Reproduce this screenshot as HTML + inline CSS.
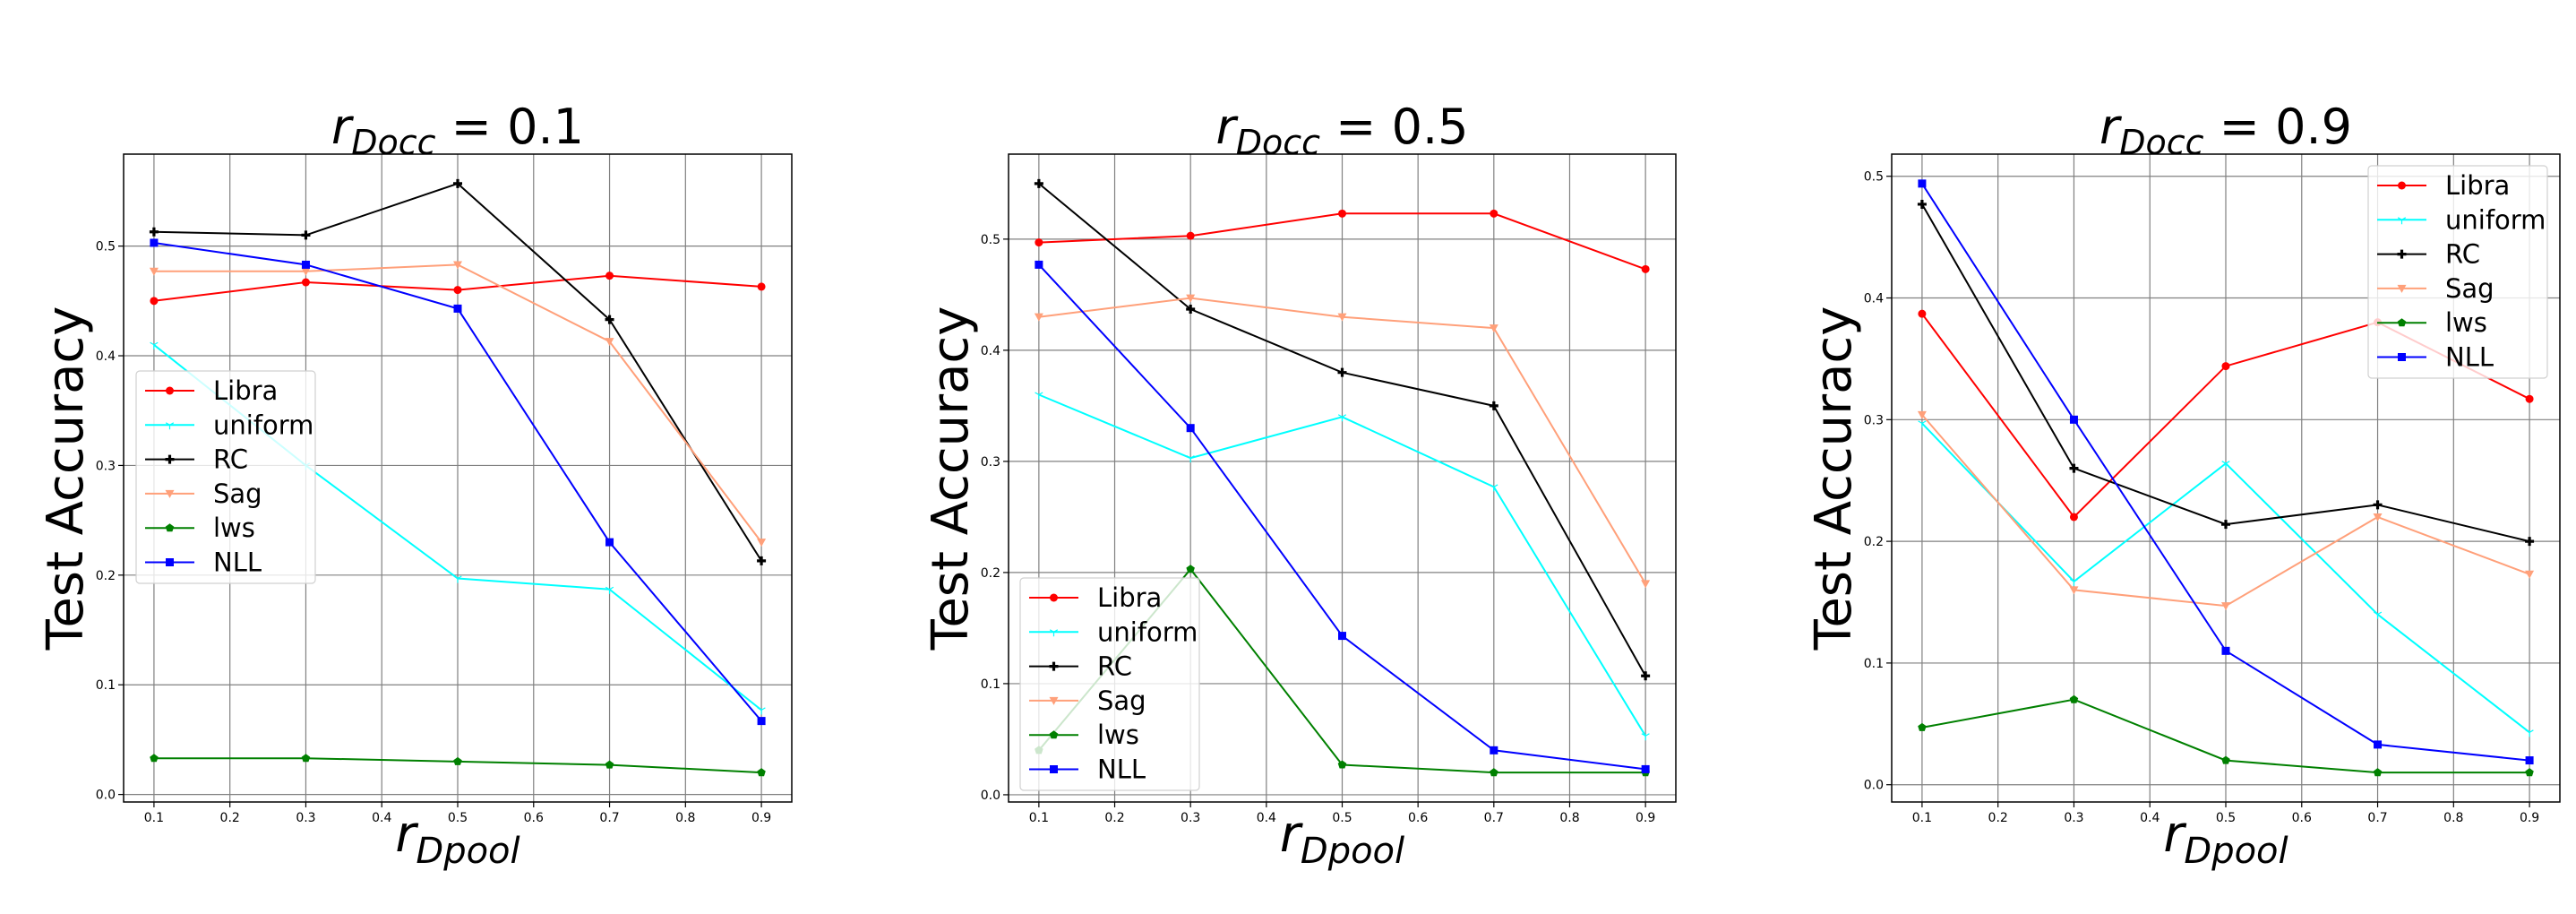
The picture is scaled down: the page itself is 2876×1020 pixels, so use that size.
<!DOCTYPE html>
<html><head><meta charset="utf-8"><style>
body{margin:0;background:#fff}
svg{display:block;font-family:"DejaVu Sans","Liberation Sans",sans-serif}
</style></head><body>
<svg id="fig" width="2876" height="1020" viewBox="0 0 2876 1020" xmlns="http://www.w3.org/2000/svg"></svg>
<script>
const xValues=[0.1,0.3,0.5,0.7,0.9];
const xTicks=[0.1,0.2,0.3,0.4,0.5,0.6,0.7,0.8,0.9];
const yTicks=[0.0,0.1,0.2,0.3,0.4,0.5];
const seriesNames=["Libra","uniform","RC","Sag","lws","NLL"];
const panelTitles=["0.1","0.5","0.9"];
const p1Libra=[0.45,0.467,0.46,0.473,0.463];
const p1Uniform=[0.41,0.30,0.197,0.187,0.077];
const p1RC=[0.513,0.51,0.557,0.433,0.213];
const p1Sag=[0.477,0.477,0.483,0.413,0.23];
const p1Lws=[0.033,0.033,0.03,0.027,0.02];
const p1NLL=[0.503,0.483,0.443,0.23,0.067];
const p2Libra=[0.497,0.503,0.523,0.523,0.473];
const p2Uniform=[0.36,0.303,0.34,0.277,0.053];
const p2RC=[0.55,0.437,0.38,0.35,0.107];
const p2Sag=[0.43,0.447,0.43,0.42,0.19];
const p2Lws=[0.04,0.203,0.027,0.02,0.02];
const p2NLL=[0.477,0.33,0.143,0.04,0.023];
const p3Libra=[0.387,0.22,0.344,0.38,0.317];
const p3Uniform=[0.297,0.167,0.264,0.14,0.043];
const p3RC=[0.477,0.26,0.214,0.23,0.2];
const p3Sag=[0.304,0.16,0.147,0.22,0.173];
const p3Lws=[0.047,0.07,0.02,0.01,0.01];
const p3NLL=[0.494,0.30,0.11,0.033,0.02];

const panelData=[[p1Libra,p1Uniform,p1RC,p1Sag,p1Lws,p1NLL],[p2Libra,p2Uniform,p2RC,p2Sag,p2Lws,p2NLL],[p3Libra,p3Uniform,p3RC,p3Sag,p3Lws,p3NLL]];
const colors=["#ff0000","#00ffff","#000000","#ffa07a","#008000","#0000ff"];
const markers=["circle","tri","plus","tridown","pent","square"];
const panels=[{l:138,r:884,leg:[152,414]},{l:1126,r:1871,leg:[1139,645]},{l:2112,r:2858,leg:[2644,185]}];
const TOP=172,BOT=895;
const NS="http://www.w3.org/2000/svg";
const svg=document.getElementById('fig');
function mk(tag,attrs,parent){const e=document.createElementNS(NS,tag);for(const k in attrs)e.setAttribute(k,attrs[k]);(parent||svg).appendChild(e);return e;}

function marker(g,type,cx,cy,color){
  let e;
  if(type==="circle"){e=mk('circle',{cx,cy,r:4.5,fill:color},g);}
  else if(type==="square"){e=mk('rect',{x:cx-4.5,y:cy-4.5,width:9,height:9,fill:color},g);}
  else if(type==="tridown"){e=mk('polygon',{points:`${cx-5},${cy-4} ${cx+5},${cy-4} ${cx},${cy+5}`,fill:color},g);}
  else if(type==="pent"){let p=[];for(let i=0;i<5;i++){const a=-Math.PI/2+i*2*Math.PI/5;p.push((cx+5*Math.cos(a)).toFixed(1)+","+(cy+5*Math.sin(a)).toFixed(1));}e=mk('polygon',{points:p.join(" "),fill:color},g);}
  else if(type==="plus"){e=mk('path',{d:`M${cx-5} ${cy-1.6}h3.4v-3.4h3.2v3.4h3.4v3.2h-3.4v3.4h-3.2v-3.4h-3.4z`,fill:color},g);}
  else if(type==="tri"){e=mk('path',{d:`M${cx} ${cy}v5M${cx} ${cy}l-4.3 -2.5M${cx} ${cy}l4.3 -2.5`,stroke:color,'stroke-width':1.2,fill:'none'},g);}
  
  
}

panels.forEach((P,pi)=>{
  const data=panelData[pi];
  const all=[].concat(...data);
  const mn=Math.min(...all),mx=Math.max(...all);
  const ylo=mn-(mx-mn)*0.05,yhi=mx+(mx-mn)*0.05;
  const xlo=0.06,xhi=0.94;
  const X=v=>P.l+(v-xlo)/(xhi-xlo)*(P.r-P.l);
  const Y=v=>BOT-(v-ylo)/(yhi-ylo)*(BOT-TOP);
  const g=mk('g',{});
  
  
  xTicks.forEach(t=>{
    const ln=mk('line',{x1:X(t),x2:X(t),y1:TOP,y2:BOT,stroke:'#808080','stroke-width':1.2},g);
    
    mk('line',{x1:X(t),x2:X(t),y1:BOT,y2:BOT+6,stroke:'#000','stroke-width':1.2},g);
    const tx=mk('text',{x:X(t),y:BOT+22,'font-size':14,'text-anchor':'middle',fill:'#000'},g);
    tx.textContent=t.toFixed(1);
    
  });
  yTicks.forEach(t=>{
    if(t>yhi)return;
    const ln=mk('line',{x1:P.l,x2:P.r,y1:Y(t),y2:Y(t),stroke:'#808080','stroke-width':1.2},g);
    
    mk('line',{x1:P.l-6,x2:P.l,y1:Y(t),y2:Y(t),stroke:'#000','stroke-width':1.2},g);
    const tx=mk('text',{x:P.l-9,y:Y(t)+5,'font-size':14,'text-anchor':'end',fill:'#000'},g);
    tx.textContent=t.toFixed(1);
    
  });
  data.forEach((vals,si)=>{
    const sg=mk('g',{},g);
    
    
    const pts=vals.map((v,i)=>X(xValues[i]).toFixed(1)+","+Y(v).toFixed(1)).join(" ");
    const pl=mk('polyline',{points:pts,fill:'none',stroke:colors[si],'stroke-width':2},sg);
    
    
    vals.forEach((v,i)=>marker(sg,markers[si],X(xValues[i]),Y(v),colors[si]));
  });
  const fr=mk('rect',{x:P.l,y:TOP,width:P.r-P.l,height:BOT-TOP,fill:'none',stroke:'#000','stroke-width':1.5},g);
  
  const cx=(P.l+P.r)/2;
  const tt=mk('text',{x:cx,y:160,'font-size':54,'text-anchor':'middle',fill:'#000'},g);
  
  tt.innerHTML='<tspan font-style="italic">r</tspan><tspan font-style="italic" font-size="38" dy="12">Docc</tspan><tspan dy="-12"> = '+panelTitles[pi]+'</tspan>';
  const xl=mk('text',{x:cx,y:950,'font-size':56,'text-anchor':'middle',fill:'#000'},g);
  
  xl.innerHTML='<tspan font-style="italic">r</tspan><tspan font-style="italic" font-size="40" dy="13">Dpool</tspan>';
  const yl=mk('text',{x:0,y:0,'font-size':56,'text-anchor':'middle',fill:'#000',transform:`translate(${P.l-46},${(TOP+BOT)/2}) rotate(-90)`},g);
  yl.textContent='Test Accuracy';
  
  const lg=mk('g',{},g);
  
  const [lx,ly]=P.leg;
  mk('rect',{x:lx,y:ly,width:200,height:237,rx:4,fill:'rgba(255,255,255,0.8)',stroke:'#d0d0d0','stroke-width':1.2},lg);
  seriesNames.forEach((n,si)=>{
    const ey=ly+22+si*38.3;
    const eg=mk('g',{},lg);
    
    
    mk('line',{x1:lx+10,x2:lx+65,y1:ey,y2:ey,stroke:colors[si],'stroke-width':2},eg);
    marker(eg,markers[si],lx+37.5,ey,colors[si]);
    const t=mk('text',{x:lx+86,y:ey+10,'font-size':29,fill:'#000'},eg);
    t.textContent=n;
  });
});
</script>
</body></html>
